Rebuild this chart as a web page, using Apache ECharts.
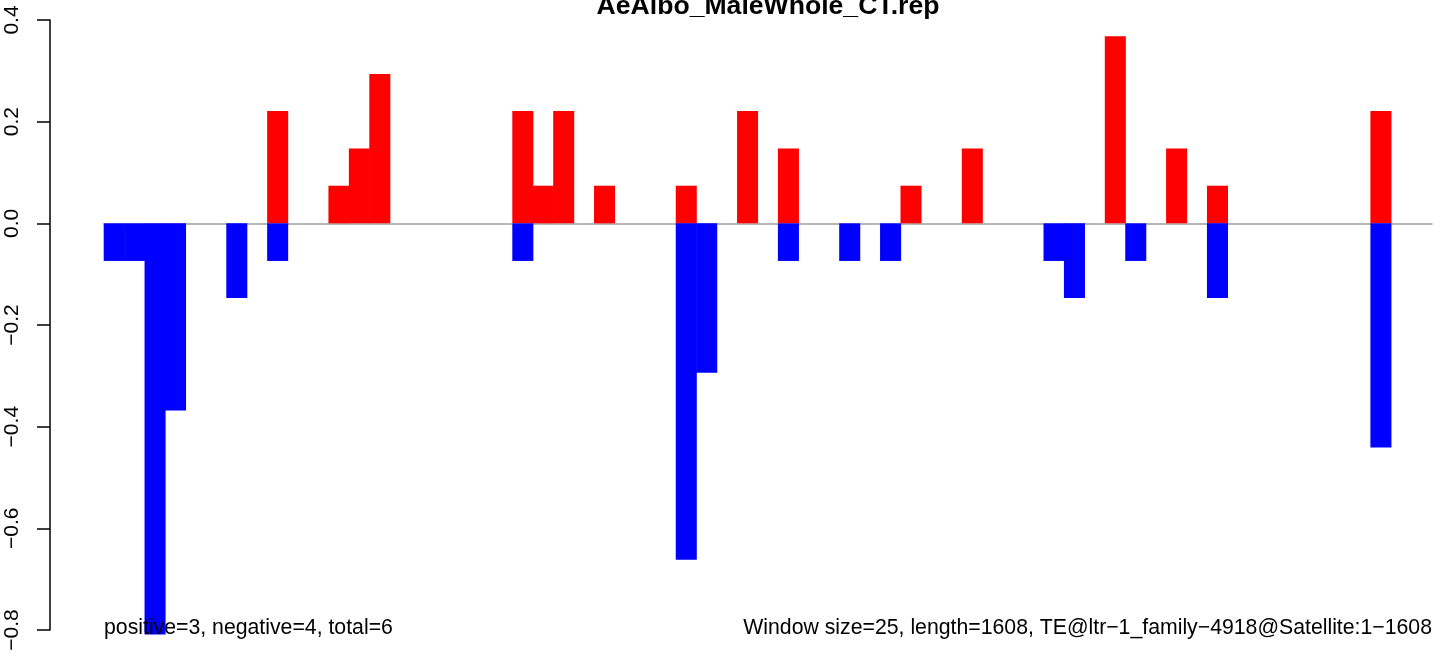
<!DOCTYPE html>
<html>
<head>
<meta charset="utf-8">
<script src="https://cdn.jsdelivr.net/npm/echarts@6/dist/echarts.min.js"></script>
<style>
html,body{margin:0;padding:0;background:#fff;}
#chart{width:1444px;height:656px;}
</style>
</head>
<body>
<div id="chart"></div>
<script>
// window index (65 windows of size 25 over length 1608)
const categories = [
  1,26,51,76,101,126,151,176,201,226,
  251,276,301,326,351,376,401,426,451,476,
  501,526,551,576,601,626,651,676,701,726,
  751,776,801,826,851,876,901,926,951,976,
  1001,1026,1051,1076,1101,1126,1151,1176,1201,1226,
  1251,1276,1301,1326,1351,1376,1401,1426,1451,1476,
  1501,1526,1551,1576,1601
];
const positiveValues = [
  0,0,0,0,0,0,0,0,0.221,0,
  0,0.074,0.147,0.294,0,0,0,0,0,0,
  0.221,0.074,0.221,0,0.074,0,0,0,0.074,0,
  0,0.221,0,0.147,0,0,0,0,0,0.074,
  0,0,0.147,0,0,0,0,0,0,0.368,
  0,0,0.147,0,0.074,0,0,0,0,0,
  0,0,0.221,0,0
];
const negativeValues = [
  -0.074,-0.074,-0.809,-0.368,0,0,-0.147,0,-0.074,0,
  0,0,0,0,0,0,0,0,0,0,
  -0.074,0,0,0,0,0,0,0,-0.662,-0.294,
  0,0,0,-0.074,0,0,-0.074,0,-0.074,0,
  0,0,0,0,0,0,-0.074,-0.147,0,0,
  -0.074,0,0,0,-0.147,0,0,0,0,0,
  0,0,-0.441,0,0
];
const yTicks = [-0.8,-0.6,-0.4,-0.2,0.0,0.2,0.4];
const titleText = 'AeAlbo_MaleWhole_CT.rep';
const leftNote = 'positive=3, negative=4, total=6';
const rightNote = 'Window size=25, length=1608, TE@ltr\u22121_family\u22124918@Satellite:1\u22121608';

const FONT = '"Liberation Sans", Arial, Helvetica, sans-serif';
const toBar = arr => arr.map(v => (v === 0 ? '-' : v));
const chart = echarts.init(document.getElementById('chart'));
chart.setOption({
  animation: false,
  backgroundColor: '#ffffff',
  grid: { left: 104, right: 12, top: 20, bottom: 26, outerBoundsMode: 'none', containLabel: false },
  xAxis: {
    type: 'category',
    data: categories,
    boundaryGap: true,
    axisLine: { show: true, onZero: true, lineStyle: { color: '#9e9e9e', width: 1.5 } },
    axisTick: { show: false },
    axisLabel: { show: false },
    splitLine: { show: false }
  },
  yAxis: {
    type: 'value',
    min: yTicks[0],
    max: yTicks[yTicks.length - 1],
    interval: 0.2,
    offset: 54,
    axisLine: { show: true, lineStyle: { color: '#000', width: 1.5 } },
    axisTick: { show: true, inside: false, length: 13, lineStyle: { color: '#000', width: 1.5 } },
    axisLabel: {
      rotate: 90,
      margin: 27,
      fontSize: 21,
      fontFamily: FONT,
      color: '#000',
      hideOverlap: false,
      formatter: v => v.toFixed(1).replace('-', '\u2212')
    },
    splitLine: { show: false }
  },
  series: [
    {
      type: 'bar', name: 'positive', data: toBar(positiveValues),
      barWidth: '103%', barGap: '-100%', clip: false,
      itemStyle: { color: '#ff0000' }, silent: true
    },
    {
      type: 'bar', name: 'negative', data: toBar(negativeValues),
      barWidth: '103%', barGap: '-100%', clip: false,
      itemStyle: { color: '#0000ff' }, silent: true
    }
  ],
  graphic: [
    { type: 'text', z: 100, style: { text: titleText, x: 768, y: 20, align: 'center', verticalAlign: 'bottom', font: 'bold 26.6px ' + FONT, fill: '#000' } },
    { type: 'text', z: 100, style: { text: leftNote, x: 104, y: 639, align: 'left', verticalAlign: 'bottom', font: '21.25px ' + FONT, fill: '#000' } },
    { type: 'text', z: 100, style: { text: rightNote, x: 1432, y: 639, align: 'right', verticalAlign: 'bottom', font: '21.25px ' + FONT, fill: '#000' } }
  ]
});
</script>
</body>
</html>
